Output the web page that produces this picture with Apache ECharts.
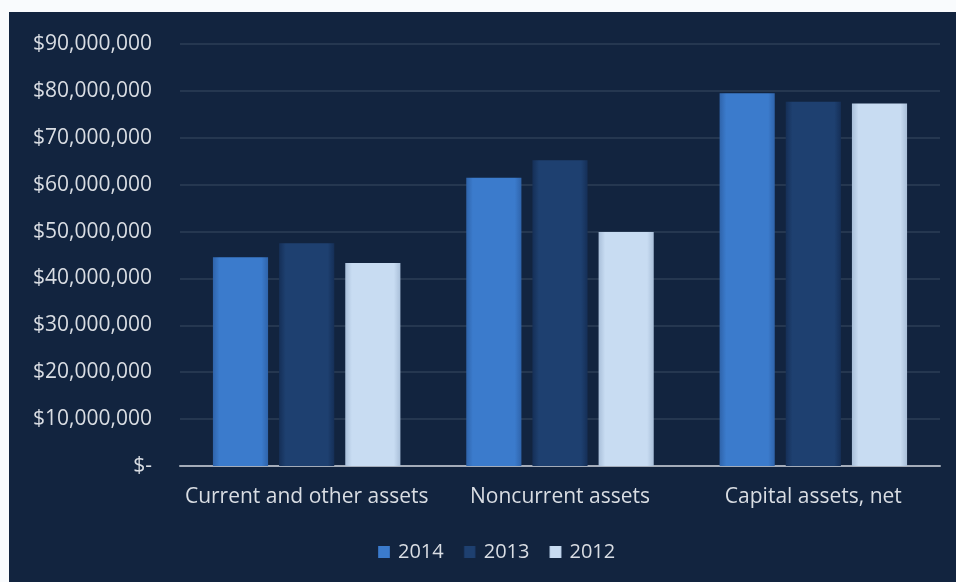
<!DOCTYPE html>
<html>
<head>
<meta charset="utf-8">
<script src="https://cdn.jsdelivr.net/npm/echarts@6/dist/echarts.min.js"></script>
<style>
  html, body { margin: 0; padding: 0; background: #f9fbfd; }
  #chart { position: absolute; left: 9px; top: 12px; width: 947px; height: 570px; }
</style>
</head>
<body>
<div id="chart"></div>
<script>
// Net position components by year
const categories = ['Current and other assets', 'Noncurrent assets', 'Capital assets, net'];
const years = ['2014', '2013', '2012'];
const values2014 = [44500000, 61500000, 79500000];
const values2013 = [47500000, 65200000, 77700000];
const values2012 = [43300000, 49900000, 77300000];

const seriesValues = [values2014, values2013, values2012];

// Bevelled bar fills: darker edges, brighter middle
function bevel(edge, mid) {
  return {
    type: 'linear', x: 0, y: 0, x2: 1, y2: 0,
    colorStops: [
      { offset: 0, color: edge },
      { offset: 0.12, color: mid },
      { offset: 0.88, color: mid },
      { offset: 1, color: edge }
    ]
  };
}
const fills = [
  bevel('#2f64ab', '#3b7bcc'),
  bevel('#152f57', '#1e4070'),
  bevel('#a9bfd9', '#c8dcf2')
];

function money(v) {
  if (v === 0) return '$-';
  return '$' + v.toLocaleString('en-US');
}

const FONT = '"Open Sans", "Noto Sans", sans-serif';

const chart = echarts.init(document.getElementById('chart'));
chart.setOption({
  backgroundColor: '#12243f',
  textStyle: { fontFamily: FONT },
  grid: { left: 171, right: 16, top: 32, bottom: 116, containLabel: false },
  legend: {
    bottom: 15,
    left: 364,
    itemWidth: 12,
    itemHeight: 12,
    itemGap: 20,
    icon: 'rect',
    textStyle: { color: '#d9dde3', fontSize: 20, fontFamily: FONT, padding: [0, 0, 0, 3] },
    data: years
  },
  xAxis: {
    type: 'category',
    data: categories,
    axisLine: { lineStyle: { color: '#a4acb9', width: 2 } },
    axisTick: { show: false },
    axisLabel: { color: '#d9dde3', fontSize: 21, margin: 21, interval: 0 }
  },
  yAxis: {
    type: 'value',
    min: 0,
    max: 90000000,
    interval: 10000000,
    axisLine: { show: false },
    axisTick: { show: false },
    splitLine: { lineStyle: { color: '#2d3e57', width: 1.5 } },
    axisLabel: { color: '#d9dde3', fontSize: 21, margin: 28, formatter: money }
  },
  series: years.map((y, i) => ({
    name: y,
    type: 'bar',
    data: seriesValues[i],
    barGap: '20%',
    barCategoryGap: '26%',
    itemStyle: {
      color: fills[i],
      shadowColor: 'rgba(0,0,0,0.45)',
      shadowBlur: 6,
      shadowOffsetX: 2
    }
  }))
});
</script>
</body>
</html>
